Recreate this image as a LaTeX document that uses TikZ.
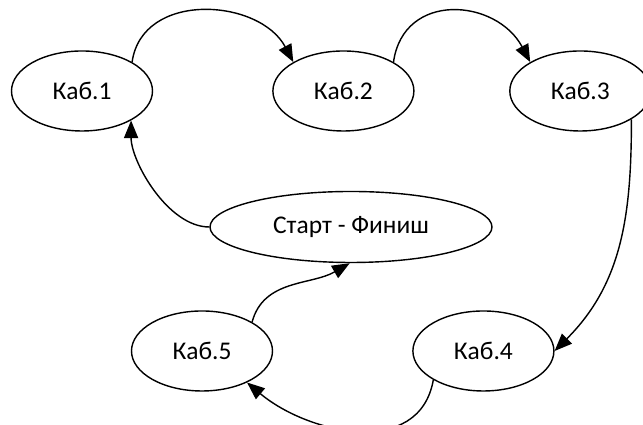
\documentclass[tikz,border=0pt]{standalone}
\usepackage{fontspec}
\setmainfont{Carlito}
\usepackage{tikz}
\usetikzlibrary{shapes.geometric, arrows.meta, positioning}

\begin{document}
\begin{tikzpicture}[
    room/.style={ellipse, draw=black, line width=0.8pt, minimum width=2.82cm, minimum height=1.6cm, inner sep=0pt, font=\fontsize{14.5}{17}\selectfont},
    hub/.style={room, minimum width=5.64cm, minimum height=1.42cm},
    arrow/.style={-{Triangle[length=10pt, width=8pt]}, line width=0.8pt, black}
]
\useasboundingbox (0,0) rectangle (12.86,8.5);

% Top row
\node[room] (room1) at (1.64, 6.68) {Каб.1};
\node[room, right=2.38cm of room1] (room2) {Каб.2};
\node[room, right=1.89cm of room2] (room3) {Каб.3};

% Start / finish
\node[hub] (start) at (7.02, 3.96) {Старт - Финиш};

% Bottom row
\node[room] (room5) at (4.04, 1.48) {Каб.5};
\node[room, right=2.78cm of room5] (room4) {Каб.4};

% Route
\draw[arrow] (room1.30) to[out=82, in=118, looseness=1.15] (room2.150);
\draw[arrow] (room2.30) to[out=82, in=118, looseness=1.35] (room3.150);
\draw[arrow] (room3.-29) to[out=-90, in=45] (room4.east);
\draw[arrow] (room4.210) to[out=-100, in=-40, looseness=1.1] (room5.-35);
\draw[arrow] (room5.30) to[out=75, in=-150] (start.-92);
\draw[arrow] (start.west) to[out=180, in=-90, looseness=0.8] (room1.-31);

\end{tikzpicture}
\end{document}
